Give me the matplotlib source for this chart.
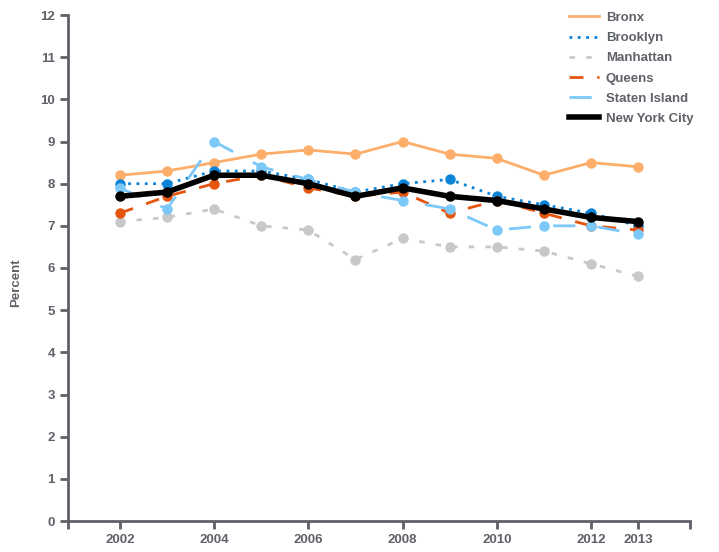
import matplotlib.pyplot as plt
from matplotlib import font_manager

names = {f.name for f in font_manager.fontManager.ttflist}
fam = "Liberation Sans Narrow" if "Liberation Sans Narrow" in names else "Liberation Sans"
plt.rcParams['font.family'] = [fam, 'DejaVu Sans']

years = [2002, 2003, 2004, 2005, 2006, 2007, 2008, 2009, 2010, 2011, 2012, 2013]
bronx = [8.2, 8.3, 8.5, 8.7, 8.8, 8.7, 9.0, 8.7, 8.6, 8.2, 8.5, 8.4]
brooklyn = [8.0, 8.0, 8.3, 8.3, 8.1, 7.8, 8.0, 8.1, 7.7, 7.5, 7.3, 7.0]
manhattan = [7.1, 7.2, 7.4, 7.0, 6.9, 6.2, 6.7, 6.5, 6.5, 6.4, 6.1, 5.8]
queens = [7.3, 7.7, 8.0, 8.2, 7.9, 7.7, 7.8, 7.3, 7.6, 7.3, 7.0, 6.9]
staten = [7.9, 7.4, 9.0, 8.4, 8.1, 7.8, 7.6, 7.4, 6.9, 7.0, 7.0, 6.8]
nyc = [7.7, 7.8, 8.2, 8.2, 8.0, 7.7, 7.9, 7.7, 7.6, 7.4, 7.2, 7.1]
tick_years = [2002, 2004, 2006, 2008, 2010, 2012, 2013]

axis_col = '#5f6168'

fig = plt.figure(figsize=(7.19, 5.52), dpi=100)
ax = fig.add_axes([68 / 719, 31 / 552, 622 / 719, 506 / 552])

ax.plot(years, bronx, color='#fdae6b', lw=2, marker='o', ms=6.5, label='Bronx')
ax.plot(years, brooklyn, color='#0b84d8', lw=2, ls=(0, (1, 2)), marker='o', ms=6.5, label='Brooklyn')
ax.plot(years, manhattan, color='#c8c8c8', lw=2, ls=(0, (2, 4)), marker='o', ms=6.5, label='Manhattan')
ax.plot(years, queens, color='#e6550d', lw=2, ls=(0, (5, 5)), marker='o', ms=6.5, label='Queens')
ax.plot(years, staten, color='#7cc8f8', lw=2, ls=(0, (8, 8)), marker='o', ms=6.5, label='Staten Island')
ax.plot(years, nyc, color='black', lw=4, marker='o', ms=6.5, label='New York City')

ax.set_xlim(2000.9, 2014.1)
ax.set_ylim(0, 12)
ax.set_xticks(tick_years)
ax.set_xticks([2000.9, 2014.1], minor=True)
ax.set_yticks(range(0, 13))

for s in ['top', 'right']:
    ax.spines[s].set_visible(False)
for s in ['left', 'bottom']:
    ax.spines[s].set_color(axis_col)
    ax.spines[s].set_linewidth(2)

ax.tick_params(axis='both', which='both', colors=axis_col, width=2, length=6,
               labelsize=9.5, labelcolor=axis_col)
for lab in ax.get_xticklabels() + ax.get_yticklabels():
    lab.set_fontweight('bold')

ax.set_ylabel('Percent', fontsize=9.5, fontweight='bold', color=axis_col)
ax.yaxis.set_label_coords(-0.074, 0.47)

leg = fig.legend(loc='upper left', bbox_to_anchor=(557 / 719, 1.0), frameon=False,
                 handlelength=2.3, handletextpad=0.5, fontsize=9.5, labelspacing=0.6)
for t in leg.get_texts():
    t.set_color(axis_col)
    t.set_fontweight('bold')
for h in leg.legend_handles:
    h.set_marker('')

plt.savefig('out.png', dpi=100)
